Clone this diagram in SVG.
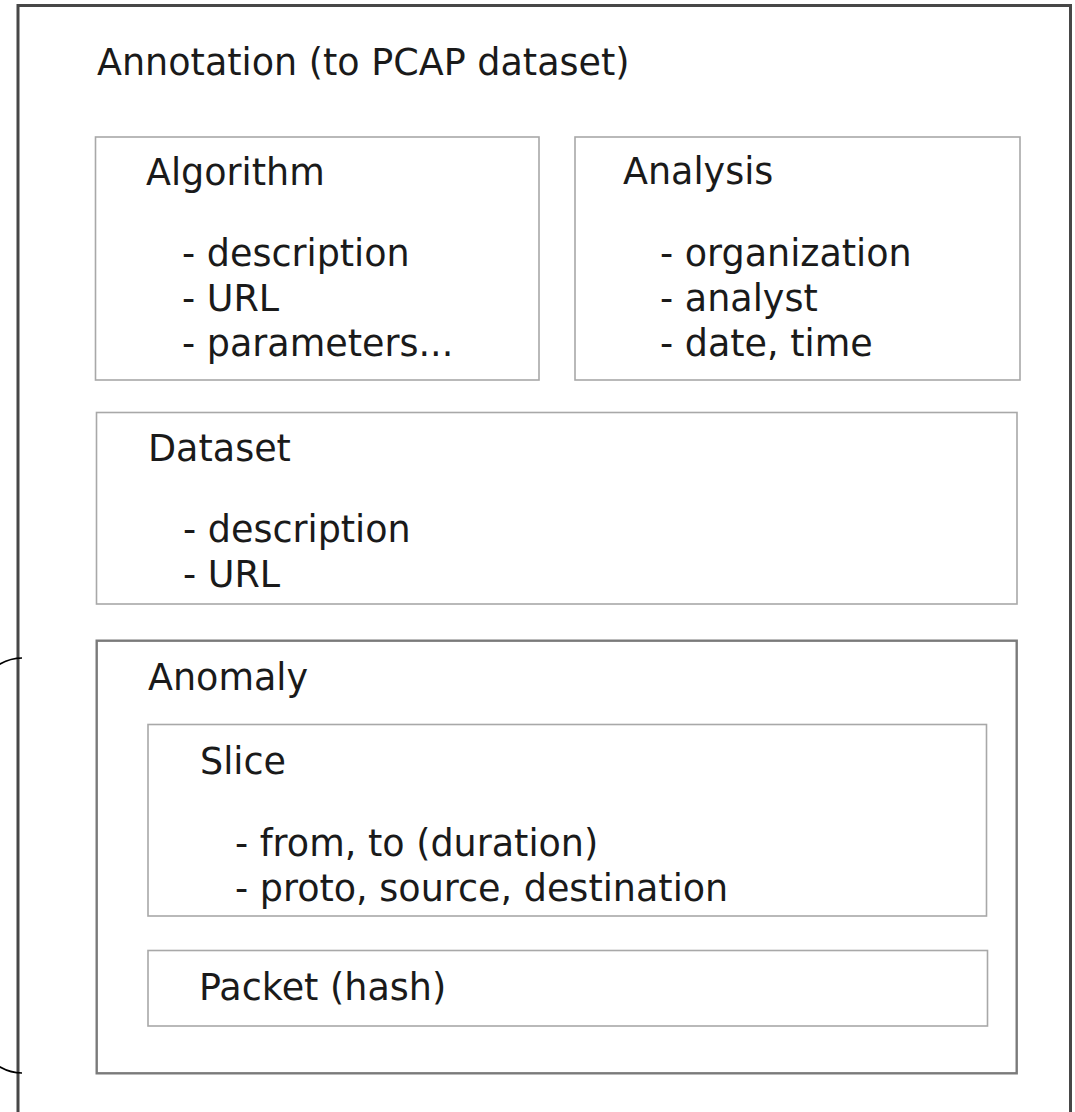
<svg xmlns="http://www.w3.org/2000/svg" width="1075" height="1112" viewBox="0 0 1075 1112">
  <style>
    .box { fill: none; stroke: #a8a8a8; stroke-width: 1.6; }
    .box-strong { fill: none; stroke: #7a7a7a; stroke-width: 2.4; }
    .frame { fill: #ffffff; stroke: #474747; stroke-width: 3; }
    text { font-family: "DejaVu Sans", "Liberation Sans", sans-serif; font-size: 36.5px; fill: #1a1a1a; }
    .brace { fill: none; stroke: #000000; stroke-width: 1.6; }
  </style>
  <rect width="1075" height="1112" fill="#ffffff"/>

  <!-- outer container -->
  <g id="annotation">
    <rect class="frame" x="18" y="5.5" width="1052.5" height="1108"/>
    <text x="97" y="74.5">Annotation (to PCAP dataset)</text>
  </g>

  <g id="algorithm">
    <rect class="box" x="95.5" y="137" width="443.5" height="243"/>
    <text x="146" y="184.5">Algorithm</text>
    <text x="182" y="266">- description</text>
    <text x="182" y="311">- URL</text>
    <text x="182" y="356">- parameters...</text>
  </g>

  <g id="analysis">
    <rect class="box" x="575" y="137" width="445" height="243"/>
    <text x="623" y="183.5">Analysis</text>
    <text x="660" y="266">- organization</text>
    <text x="660" y="311">- analyst</text>
    <text x="660" y="356">- date, time</text>
  </g>

  <g id="dataset">
    <rect class="box" x="96.5" y="412.5" width="920.5" height="191.5"/>
    <text x="148" y="460.5">Dataset</text>
    <text x="183" y="542">- description</text>
    <text x="183" y="587">- URL</text>
  </g>

  <g id="anomaly">
    <rect class="box-strong" x="96.7" y="640.7" width="920" height="432.6"/>
    <text x="148" y="689.5">Anomaly</text>
  </g>

  <g id="slice">
    <rect class="box" x="148" y="724.5" width="838.5" height="191.5"/>
    <text x="200" y="773.5">Slice</text>
    <text x="235" y="856">- from, to (duration)</text>
    <text x="235" y="901">- proto, source, destination</text>
  </g>

  <g id="packet">
    <rect class="box" x="148" y="950.5" width="839.5" height="75.5"/>
    <text x="199" y="1000">Packet (hash)</text>
  </g>

  <!-- connectors -->
  <g id="connectors">
    <path class="brace" d="M22,658 A92,207.5 0 0 0 22,1073"/>
  </g>
</svg>
